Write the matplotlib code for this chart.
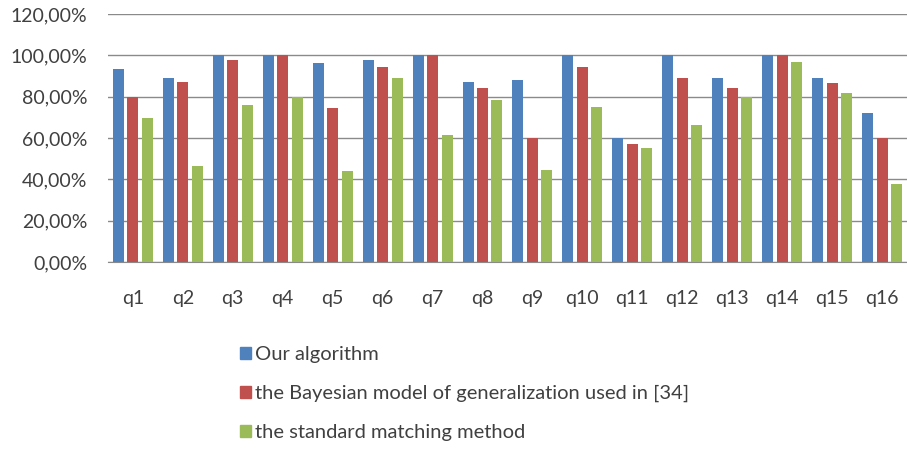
import numpy as np
import matplotlib
matplotlib.use('Agg')
import matplotlib.pyplot as plt
from matplotlib.ticker import FuncFormatter
from matplotlib.patches import Patch

categories = ['q%d' % i for i in range(1, 17)]
our_algo = [93.5, 88.8, 100, 100, 96.1, 97.7, 100, 87.2, 88.2, 100, 59.8, 100, 88.8, 100, 88.8, 72.0]
bayesian = [79.7, 87.2, 97.7, 100, 74.6, 94.5, 100, 84.1, 59.8, 94.5, 56.9, 88.8, 84.1, 100, 86.5, 59.8]
standard = [69.7, 46.5, 76.2, 79.7, 44.1, 88.8, 61.6, 78.4, 44.7, 75.2, 55.3, 66.3, 79.7, 96.9, 81.7, 37.8]
series_names = ['Our algorithm',
                'the Bayesian model of generalization used in [34]',
                'the standard matching method']
colors = ['#4F81BD', '#C0504D', '#9BBB59']

plt.rcParams['font.family'] = ['Lato', 'DejaVu Sans']
txt_color = '#404040'
fs = 14

fig = plt.figure(figsize=(9.07, 4.49), dpi=100)
ax = fig.add_axes([0.119, 0.4165, 0.881, 0.5523])

x = np.arange(len(categories))
w = 0.22
step = 0.29
for i, (vals, c) in enumerate(zip([our_algo, bayesian, standard], colors)):
    ax.bar(x + (i - 1) * step, vals, width=w, color=c, zorder=3)

ax.set_xlim(-0.5, len(categories) - 0.5)
ax.set_ylim(0, 120)
ax.set_yticks(np.arange(0, 121, 20))
ax.yaxis.set_major_formatter(FuncFormatter(lambda v, p: ('%.2f%%' % v).replace('.', ',')))
ax.grid(axis='y', color='#8a8a8a', linewidth=1.0, zorder=0)
ax.set_xticks(x)
ax.set_xticklabels(categories)

for s in ['top', 'right', 'left']:
    ax.spines[s].set_visible(False)
ax.spines['bottom'].set_color('#8a8a8a')
ax.tick_params(axis='x', length=0, pad=20, labelsize=fs, colors=txt_color)
ax.tick_params(axis='y', length=0, pad=15, labelsize=fs, colors=txt_color)

handles = [Patch(color=c) for c in colors]
fig.legend(handles, series_names, loc='upper left', bbox_to_anchor=(0.245, 0.27),
           frameon=False, fontsize=14.5, labelspacing=1.08, handlelength=0.55,
           handleheight=0.55, handletextpad=0.2, labelcolor=txt_color)

fig.savefig('out.png', dpi=100)
